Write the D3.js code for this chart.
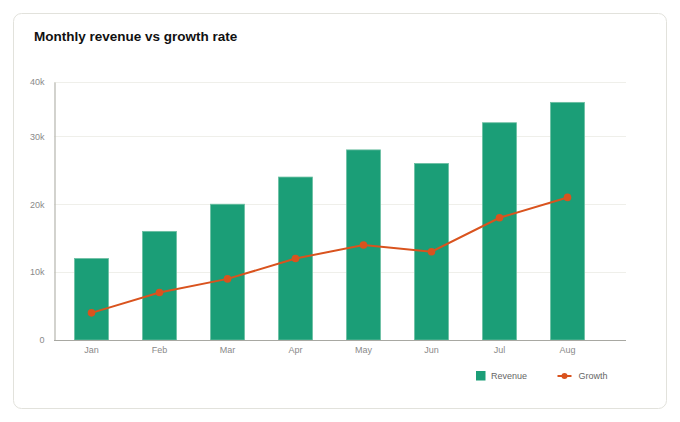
<!DOCTYPE html>
<html>
<head>
<meta charset="utf-8">
<script src="https://cdn.jsdelivr.net/npm/d3@7"></script>
<style>
  html, body { margin: 0; padding: 0; background: #ffffff; }
  svg { display: block; font-family: "Liberation Sans", Arial, Helvetica, sans-serif; }
</style>
</head>
<body>
<svg id="chart" width="680" height="422"></svg>
<script>
const months = ["Jan", "Feb", "Mar", "Apr", "May", "Jun", "Jul", "Aug"];
const revenue = [12000, 16000, 20000, 24000, 28000, 26000, 32000, 35000];
const growth = [4000, 7000, 9000, 12000, 14000, 13000, 18000, 21000];
const yTickValues = [0, 10000, 20000, 30000, 38000];
const yTickLabels = ["0", "10k", "20k", "30k", "40k"];
const title = "Monthly revenue vs growth rate";
const seriesNames = ["Revenue", "Growth"];

const barColor = "#1b9e77";
const lineColor = "#d9531e";

const svg = d3.select("#chart");

// card
svg.append("rect")
  .attr("x", 13.5).attr("y", 13.5)
  .attr("width", 653).attr("height", 395)
  .attr("rx", 8).attr("ry", 8)
  .attr("fill", "#ffffff")
  .attr("stroke", "#e2e2dc")
  .attr("stroke-width", 1);

svg.append("text")
  .attr("x", 34).attr("y", 41)
  .attr("font-size", 13.5)
  .attr("font-weight", "bold")
  .attr("fill", "#111")
  .text(title);

const plot = { left: 54, right: 626, top: 82, bottom: 340 };

const x = d3.scaleBand()
  .domain(months)
  .range([57.5, 601.5])
  .paddingInner(0.5)
  .paddingOuter(0.25);

const y = d3.scaleLinear()
  .domain([0, yTickValues[yTickValues.length - 1]])
  .range([plot.bottom, plot.top]);

// gridlines
svg.append("g")
  .selectAll("line")
  .data(yTickValues.slice(1))
  .join("line")
  .attr("x1", plot.left).attr("x2", plot.right)
  .attr("y1", d => Math.round(y(d)) + 0.5)
  .attr("y2", d => Math.round(y(d)) + 0.5)
  .attr("stroke", "#efefea")
  .attr("stroke-width", 1);

// y axis
const yAxis = d3.axisLeft(y)
  .tickValues(yTickValues)
  .tickSize(0)
  .tickPadding(10)
  .tickFormat((d, i) => yTickLabels[i]);
const gy = svg.append("g")
  .attr("transform", `translate(${plot.left + 0.5},0)`)
  .call(yAxis);
gy.select(".domain").attr("stroke", "#b5b5ae").attr("stroke-width", 1.2);
gy.selectAll("text").attr("font-size", 9).attr("fill", "#8a8a8a")
  .attr("font-family", "Liberation Sans, Arial, sans-serif");

// bars
svg.append("g")
  .selectAll("rect")
  .data(revenue)
  .join("rect")
  .attr("x", (d, i) => x(months[i]))
  .attr("y", d => y(d))
  .attr("width", x.bandwidth())
  .attr("height", d => y(0) - y(d))
  .attr("fill", barColor)
  .attr("stroke", "#6cbfa2")
  .attr("stroke-width", 0.8);

// x axis
const xAxis = d3.axisBottom(x).tickSize(0).tickPadding(7);
const gx = svg.append("g")
  .attr("transform", `translate(0,${plot.bottom})`)
  .call(xAxis);
gx.select(".domain").remove();
gx.selectAll("text").attr("font-size", 9).attr("fill", "#8a8a8a")
  .attr("font-family", "Liberation Sans, Arial, sans-serif");
svg.append("line")
  .attr("x1", plot.left).attr("x2", plot.right)
  .attr("y1", plot.bottom + 0.5).attr("y2", plot.bottom + 0.5)
  .attr("stroke", "#a8a8a2").attr("stroke-width", 1.2);

// growth line
const line = d3.line()
  .x((d, i) => x(months[i]) + x.bandwidth() / 2)
  .y(d => y(d));
svg.append("path")
  .datum(growth)
  .attr("d", line)
  .attr("fill", "none")
  .attr("stroke", lineColor)
  .attr("stroke-width", 2);
svg.append("g")
  .selectAll("circle")
  .data(growth)
  .join("circle")
  .attr("cx", (d, i) => x(months[i]) + x.bandwidth() / 2)
  .attr("cy", d => y(d))
  .attr("r", 3.8)
  .attr("fill", lineColor);

// legend
const lg = svg.append("g").attr("font-size", 9).attr("fill", "#666");
lg.append("rect")
  .attr("x", 476).attr("y", 371)
  .attr("width", 9.5).attr("height", 9.5)
  .attr("fill", barColor);
lg.append("text").attr("x", 491).attr("y", 379.2).text(seriesNames[0]);
lg.append("line")
  .attr("x1", 557.5).attr("x2", 571.5)
  .attr("y1", 376).attr("y2", 376)
  .attr("stroke", lineColor).attr("stroke-width", 2);
lg.append("circle").attr("cx", 564.5).attr("cy", 376).attr("r", 3).attr("fill", lineColor);
lg.append("text").attr("x", 578.5).attr("y", 379.2).text(seriesNames[1]);
</script>
</body>
</html>
